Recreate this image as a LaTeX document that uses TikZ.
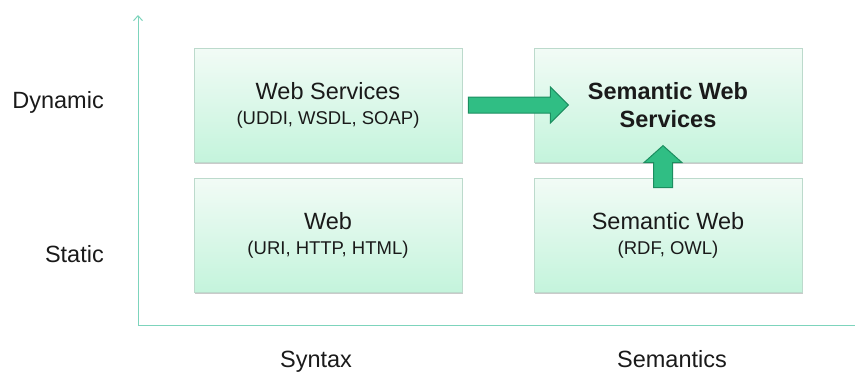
\documentclass[tikz,border=0pt]{standalone}
\usepackage[table, dvipsnames]{xcolor}
\usepackage{fontspec}
\setmainfont{Liberation Sans}
\usepackage{tikz}
\usetikzlibrary{arrows.meta,shadows,calc}
\definecolor{axisgreen}{RGB}{125,212,188}
\definecolor{boxline}{RGB}{188,218,204}
\definecolor{boxtop}{RGB}{242,251,246}
\definecolor{boxbottom}{RGB}{196,244,220}
\definecolor{arrowfill}{RGB}{48,190,132}
\definecolor{arrowline}{RGB}{28,142,96}
\definecolor{ink}{RGB}{26,26,26}
\newcommand{\bigtext}{\fontsize{23.5}{25}\selectfont}
\newcommand{\subtext}{\fontsize{18.5}{25}\selectfont}

\begin{document}
\begin{tikzpicture}[x=1pt,y=-1pt]
\tikzstyle{every node}+=[inner sep=0pt,text=ink]
\tikzstyle{box}=[draw=boxline,line width=0.8pt,top color=boxtop,bottom color=boxbottom,minimum width=268pt,minimum height=114pt,align=center,font=\bigtext,drop shadow={shadow xshift=1pt,shadow yshift=-2pt,opacity=0.35,fill=black!60}]
\tikzstyle{blockarrow}=[draw=arrowline,fill=arrowfill,line width=1pt,line join=miter]
\tikzstyle{axis}=[draw=axisgreen,line width=1pt]
\useasboundingbox (0,0) rectangle (855,372);
\coordinate (origin) at (138,325);
\coordinate (ytip) at (138,15);
\coordinate (xend) at (855,325);
\draw [axis,-{Straight Barb[length=5pt,width=9pt]}] (origin) -- (ytip);
\draw [axis] (origin) -- (xend);
\node [box] (ws) at (328,105) {Web Services\\ \subtext (UDDI, WSDL, SOAP)};
\node [box] (web) at (328,235) {Web\\ \subtext (URI, HTTP, HTML)};
\node [box,font=\fontsize{23.5}{28}\selectfont\bfseries] (sws) at (668,105) {Semantic Web\\ Services};
\node [box] (sw) at (668,235) {Semantic Web\\ \subtext (RDF, OWL)};
\draw [blockarrow] ($(ws.east)+(6,-8)$) -- ++(82,0) -- ++(0,-10) -- ++(18,18) -- ++(-18,18) -- ++(0,-10) -- ++(-82,0) -- cycle;
\draw [blockarrow] ($(sw.north)+(-14.5,10)$) -- ++(0,-25) -- ++(-9.5,0) -- ++(19,-17) -- ++(19,17) -- ++(-9.5,0) -- ++(0,25) -- cycle;
\node [anchor=base east,font=\bigtext] (dyn) at (104,108) {Dynamic};
\node [anchor=base east,font=\bigtext] (sta) at (104,262) {Static};
\node [anchor=base,font=\bigtext] (syn) at (316,367) {Syntax};
\node [anchor=base,font=\bigtext] (sem) at (672,367) {Semantics};
\end{tikzpicture}
\end{document}
